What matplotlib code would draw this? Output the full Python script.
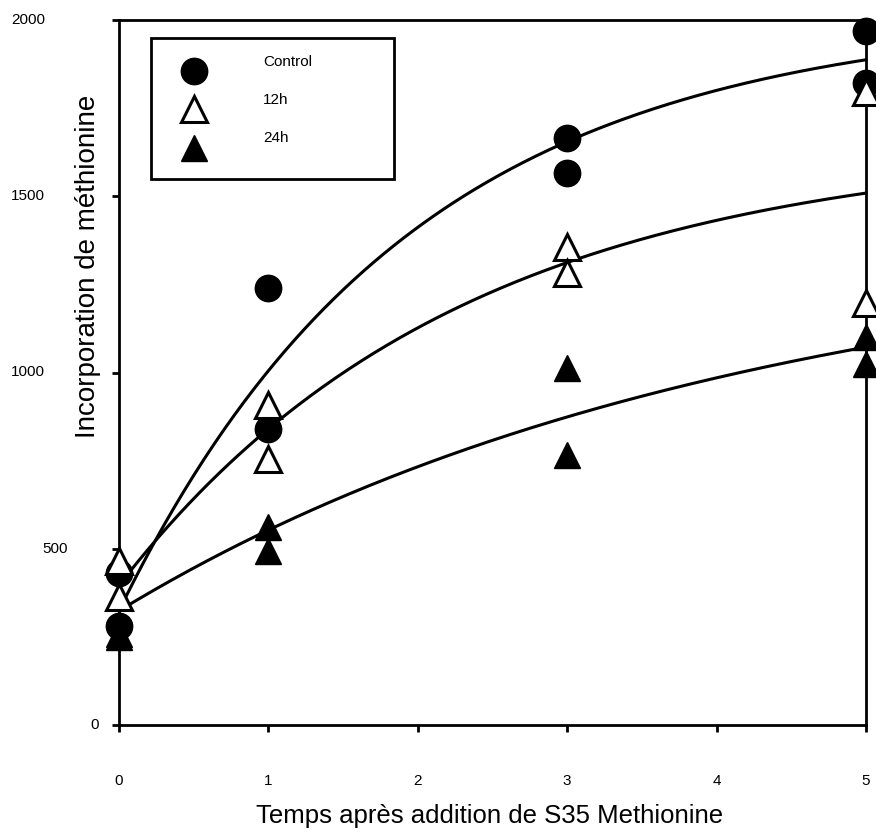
import numpy as np
import matplotlib
matplotlib.use("Agg")
import matplotlib.pyplot as plt

plt.rcParams["font.family"] = ["Liberation Sans", "DejaVu Sans"]

# =========================
# DATA
# =========================
series_names = ["Control", "12h", "24h"]

control_x = [0, 0, 1, 1, 3, 3, 5, 5]
control_y = [430, 280, 1240, 840, 1665, 1565, 1970, 1820]

h12_x = [0, 0, 1, 1, 3, 3, 5, 5]
h12_y = [466, 364, 907, 755, 1355, 1283, 1795, 1198]

h24_x = [0, 0, 1, 1, 3, 3, 5, 5]
h24_y = [258, 250, 562, 493, 1013, 766, 1101, 1023]

# exponential rise to max fit: y = y0 + a * (1 - exp(-b * x))
control_fit = (324, 1692, 0.515)
h12_fit = (396, 1254, 0.437)
h24_fit = (324, 1067, 0.2415)

xticks = [0, 1, 2, 3, 4, 5]
yticks = [0, 500, 1000, 1500, 2000]

# =========================
# FIGURE
# =========================
W, H = 876, 835
fig = plt.figure(figsize=(W / 100, H / 100), dpi=100)
ax_l, ax_r, ax_t, ax_b = 119, 866, 20, 725
ax = fig.add_axes([ax_l / W, 1 - ax_b / H, (ax_r - ax_l) / W, (ax_b - ax_t) / H])

ax.set_xlim(0, 5)
ax.set_ylim(0, 2000)

for s in ax.spines.values():
    s.set_linewidth(2)

x_fine = np.linspace(0, 5, 300)
for y0, a, b in [control_fit, h12_fit, h24_fit]:
    ax.plot(x_fine, y0 + a * (1 - np.exp(-b * x_fine)), color="black", lw=2.2,
            zorder=2, clip_on=False)

marker_styles = [
    dict(marker="o", ms=19, mfc="black", mec="black", mew=1),
    dict(marker="^", ms=18.5, mfc="white", mec="black", mew=2.2),
    dict(marker="^", ms=19, mfc="black", mec="black", mew=1),
]
for (xs, ys), style in zip([(control_x, control_y), (h12_x, h12_y), (h24_x, h24_y)],
                           marker_styles):
    ax.plot(xs, ys, ls="none", zorder=3, clip_on=False, **style)

# ticks
ax.set_xticks(xticks)
ax.set_yticks(yticks)
ax.tick_params(direction="out", length=5, width=2, top=False, right=False)
ax.tick_params(axis="x", pad=30, labelsize=11)
ax.set_yticklabels([])

# y tick labels placed like the original (right edge in px from the axis)
ylabel_right_px = {0: 20, 500: 51, 1000: 74, 1500: 74, 2000: 74}
for v in yticks:
    ax.annotate(str(v), xy=(0, v), xycoords=("axes fraction", "data"),
                xytext=(-ylabel_right_px[v] * 0.72, 0), textcoords="offset points",
                ha="right", va="center", fontsize=11)

# axis titles
fig.text(490 / W, 1 - 816 / H, "Temps après addition de S35 Methionine",
         ha="center", va="center", fontsize=18.5)
fig.text(88 / W, 1 - 266 / H, "Incorporation de méthionine",
         ha="center", va="center", rotation=90, fontsize=20)

# =========================
# LEGEND (drawn by hand to match the box)
# =========================
aw, ah = ax_r - ax_l, ax_b - ax_t
def to_ax(px, py):
    return (px - ax_l) / aw, (ax_b - py) / ah

bx0, by0 = to_ax(151, 179)
bx1, by1 = to_ax(394, 38)
ax.add_patch(plt.Rectangle((bx0, by0), bx1 - bx0, by1 - by0, transform=ax.transAxes,
                           fill=True, fc="white", ec="black", lw=2, zorder=4))
marker_y = [71, 109, 148]
text_y = [62, 100, 138]
for name, style, my, ty in zip(series_names, marker_styles, marker_y, text_y):
    mx, myf = to_ax(194, my)
    ax.plot([mx], [myf], transform=ax.transAxes, ls="none", zorder=5, **style)
    tx, tyf = to_ax(263, ty)
    ax.text(tx, tyf, name, transform=ax.transAxes, ha="left", va="center",
            fontsize=11, zorder=5)

fig.savefig("out.png", dpi=100)
